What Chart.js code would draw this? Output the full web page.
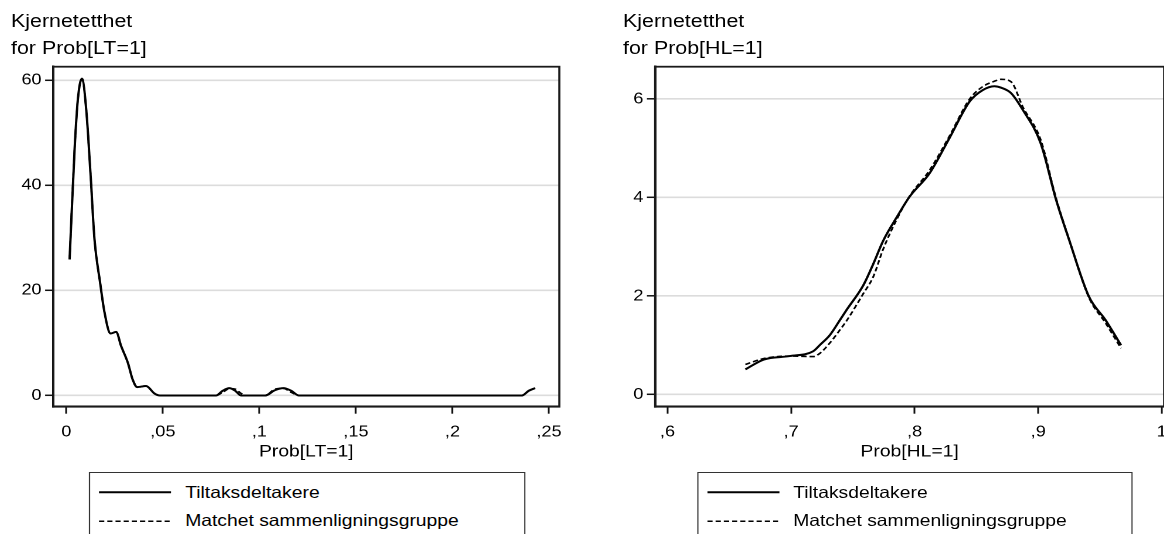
<!DOCTYPE html>
<html>
<head>
<meta charset="utf-8">
<title>Kjernetetthet</title>
<script src="https://cdn.jsdelivr.net/npm/chart.js@4.4.1/dist/chart.umd.min.js"></script>
<style>
  html, body { margin: 0; padding: 0; background: #fff; overflow: hidden; width: 1164px; height: 534px; }
  #fig { position: absolute; left: 0; top: 0; height: 534px; transform-origin: 0 0;
         font-family: "Liberation Sans", Arial, Helvetica, sans-serif; color: #000; }
  #fig canvas { position: absolute; top: 0; }
  .ytitle { position: absolute; font-size: 18.3px; line-height: 27px; white-space: nowrap; }
  .legend { position: absolute; top: 472px; height: 100px; border: 1.4px solid #333; background: #fff; box-sizing: border-box; }
  .legend span { position: absolute; font-size: 16.5px; line-height: 20px; white-space: nowrap; }
  .legend svg { position: absolute; left: 0; top: 0; overflow: visible; }
</style>
</head>
<body>
<div id="fig"></div>
<script>
// ---- data: kernel densities of the propensity score, two groups ----
const seriesNames = ['Tiltaksdeltakere', 'Matchet sammenligningsgruppe'];

// Prob[LT=1]
const ltX       = [0.0017, 0.0043, 0.0060, 0.0081, 0.0103, 0.0126, 0.0146, 0.0175, 0.0198, 0.0229,
                   0.0258, 0.0284, 0.0319, 0.0344, 0.0367, 0.0413, 0.0456, 0.0485, 0.0600, 0.0775,
                   0.0810, 0.0844, 0.0875, 0.0905, 0.0935, 0.1030, 0.1080, 0.1125, 0.1165, 0.1205,
                   0.1240, 0.2000, 0.2359, 0.2395, 0.2428];
const ltTreated = [25.9, 46.9, 56.4, 60.3, 54.5, 41.8, 29.7, 21.5, 15.8, 11.8,
                   12.1, 9.4, 6.2, 3.0, 1.6, 1.8, 0.4, 0, 0, 0,
                   0.9, 1.4, 0.9, 0, 0, 0, 1.0, 1.4, 0.9, 0,
                   0, 0, 0, 0.9, 1.4];
const ltMatched = [25.9, 46.9, 56.4, 60.3, 54.5, 41.8, 29.7, 21.5, 15.8, 11.8,
                   12.1, 9.4, 6.2, 3.0, 1.6, 1.8, 0.4, 0, 0, 0,
                   0.6, 1.3, 1.2, 0.4, 0, 0, 1.2, 1.35, 0.6, 0,
                   0, 0, 0, 0.9, 1.4];
const ltTicksX      = [0, 0.05, 0.1, 0.15, 0.2, 0.25];
const ltTickLabelsX = ['0', ',05', ',1', ',15', ',2', ',25'];
const ltTicksY      = [0, 20, 40, 60];

// Prob[HL=1]
const hlX       = [0.663, 0.678, 0.699, 0.718, 0.7235, 0.7315, 0.7395, 0.745, 0.7585, 0.7665,
                   0.7745, 0.786, 0.796, 0.812, 0.828, 0.8445, 0.855, 0.8645, 0.870, 0.878,
                   0.8875, 0.902, 0.9145, 0.925, 0.941, 0.9545, 0.967];
const hlTreated = [0.51, 0.71, 0.78, 0.88, 1.01, 1.21, 1.51, 1.72, 2.22, 2.65,
                   3.12, 3.62, 4.02, 4.49, 5.20, 5.95, 6.18, 6.26, 6.23, 6.12,
                   5.78, 5.10, 3.95, 3.14, 1.99, 1.51, 1.00];
const hlMatched = [0.61, 0.73, 0.78, 0.77, 0.84, 1.05, 1.31, 1.50, 2.05, 2.39,
                   2.95, 3.58, 4.03, 4.55, 5.24, 6.00, 6.25, 6.36, 6.40, 6.35,
                   5.84, 5.17, 3.98, 3.15, 1.97, 1.45, 0.94];
const hlTicksX      = [0.6, 0.7, 0.8, 0.9, 1];
const hlTickLabelsX = [',6', ',7', ',8', ',9', '1'];
const hlTicksY      = [0, 2, 4, 6];

const yTitles = [['Kjernetetthet', 'for Prob[LT=1]'], ['Kjernetetthet', 'for Prob[HL=1]']];
const xTitles = ['Prob[LT=1]', 'Prob[HL=1]'];

// ---- layout (page pixels; the figure is drawn narrow and stretched by SX) ----
const SX = 1.17;
const PAGE_W = 1164;
const FIG_W = PAGE_W / SX;
const AREA_TOP = 66.7, AREA_BOTTOM = 406.7, CANVAS_H = 462;
const SPLIT = 520;

const panels = [
  { x: ltX, a: ltTreated, b: ltMatched, ticksX: ltTicksX, labelsX: ltTickLabelsX, ticksY: ltTicksY,
    xMin: -0.00673, xMax: 0.25533, yMin: -2.13, yMax: 62.57,
    canvasLeft: 0, canvasRight: SPLIT, areaLeft: 53.3, areaRight: 559.3,
    titleLeft: 11, legendLeft: 89 },
  { x: hlX, a: hlTreated, b: hlMatched, ticksX: hlTicksX, labelsX: hlTickLabelsX, ticksY: hlTicksY,
    xMin: 0.58997, xMax: 1.0019, yMin: -0.248, yMax: 6.656,
    canvasLeft: SPLIT, canvasRight: FIG_W, areaLeft: 655, areaRight: 1164,
    titleLeft: 623, legendLeft: 697 }
];
const LEGEND_W = 436;

const fig = document.getElementById('fig');
fig.style.width = FIG_W + 'px';
fig.style.transform = 'scaleX(' + SX + ')';

const frame = {
  id: 'frame',
  afterDatasetsDraw(chart) {
    const { ctx, chartArea: c } = chart;
    ctx.save();
    ctx.strokeStyle = '#1a1a1a';
    ctx.lineWidth = 1.8;
    ctx.strokeRect(c.left, c.top, c.right - c.left, c.bottom - c.top);
    ctx.restore();
  }
};

const FAMILY = '"Liberation Sans", Arial, Helvetica, sans-serif';
const TICK_FONT = { family: FAMILY, size: 15.5 };
const AXIS_FONT = { family: FAMILY, size: 16.5 };

panels.forEach((p, i) => {
  const cw = p.canvasRight - p.canvasLeft;
  const canvas = document.createElement('canvas');
  canvas.style.left = p.canvasLeft + 'px';
  canvas.width = cw; canvas.height = CANVAS_H;
  canvas.style.width = cw + 'px'; canvas.style.height = CANVAS_H + 'px';
  fig.appendChild(canvas);

  const yAxisW = p.areaLeft / SX - p.canvasLeft;
  const padRight = p.canvasRight - p.areaRight / SX;

  new Chart(canvas, {
    type: 'line',
    data: {
      datasets: [
        { label: seriesNames[0], data: p.x.map((v, k) => ({ x: v, y: p.a[k] })),
          borderColor: '#000', borderWidth: 2, pointRadius: 0, cubicInterpolationMode: 'monotone', fill: false },
        { label: seriesNames[1], data: p.x.map((v, k) => ({ x: v, y: p.b[k] })),
          borderColor: '#000', borderWidth: 1.6, borderDash: [4.5, 2.5], pointRadius: 0,
          cubicInterpolationMode: 'monotone', fill: false }
      ]
    },
    options: {
      responsive: false, animation: false, devicePixelRatio: 2,
      layout: { padding: { top: AREA_TOP, right: padRight, left: 0, bottom: 0 } },
      plugins: { legend: { display: false }, tooltip: { enabled: false }, title: { display: false } },
      scales: {
        x: {
          type: 'linear', min: p.xMin, max: p.xMax,
          afterBuildTicks: s => { s.ticks = p.ticksX.map(v => ({ value: v })); },
          afterFit: s => { s.height = CANVAS_H - AREA_BOTTOM; s.paddingLeft = 0; s.paddingRight = 0; },
          ticks: { autoSkip: false, maxRotation: 0, padding: 9, color: '#000', font: TICK_FONT,
                   callback: v => p.labelsX[p.ticksX.indexOf(v)] },
          grid: { drawOnChartArea: false, drawTicks: true, tickLength: 7, tickColor: '#111', tickWidth: 1.5 },
          border: { display: true, color: '#000', width: 2 },
          title: { display: true, text: xTitles[i], color: '#000', font: AXIS_FONT, padding: { top: 0, bottom: 0 } }
        },
        y: {
          type: 'linear', min: p.yMin, max: p.yMax,
          afterBuildTicks: s => { s.ticks = p.ticksY.map(v => ({ value: v })); },
          afterFit: s => { s.width = yAxisW; s.paddingTop = 0; s.paddingBottom = 0; },
          ticks: { padding: 3, color: '#000', font: TICK_FONT, callback: v => String(v) },
          grid: { color: '#dcdcdc', lineWidth: 1.6, drawTicks: true, tickLength: 7, tickColor: '#111', tickWidth: 1.5 },
          border: { display: true, color: '#000', width: 2 }
        }
      }
    },
    plugins: [frame]
  });

  // axis title in the upper left corner
  const t = document.createElement('div');
  t.className = 'ytitle';
  t.style.left = (p.titleLeft / SX) + 'px';
  t.style.top = '6.5px';
  t.innerHTML = yTitles[i].map(s => s.replace(/&/g, '&amp;').replace(/</g, '&lt;')).join('<br>');
  fig.appendChild(t);

  // legend box
  const lg = document.createElement('div');
  lg.className = 'legend';
  lg.style.left = (p.legendLeft / SX) + 'px';
  lg.style.width = (LEGEND_W / SX) + 'px';
  const x1 = 9 / SX, x2 = 81 / SX, tx = 95 / SX;
  lg.innerHTML =
    '<svg width="1" height="1">' +
    '<line x1="' + x1 + '" x2="' + x2 + '" y1="19.3" y2="19.3" stroke="#000" stroke-width="2"/>' +
    '<line x1="' + x1 + '" x2="' + x2 + '" y1="48.3" y2="48.3" stroke="#000" stroke-width="1.6" stroke-dasharray="4.4 2.6"/>' +
    '</svg>' +
    '<span style="left:' + tx + 'px;top:8.5px">' + seriesNames[0] + '</span>' +
    '<span style="left:' + tx + 'px;top:37px">' + seriesNames[1] + '</span>';
  fig.appendChild(lg);
});
</script>
</body>
</html>
